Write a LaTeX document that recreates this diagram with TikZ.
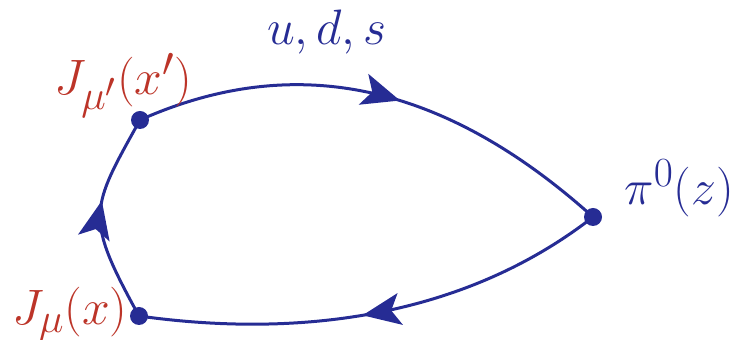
\documentclass[tikz,border=0pt]{standalone}
\usetikzlibrary{arrows.meta,decorations.markings}
\definecolor{lineblue}{RGB}{38,44,148}
\definecolor{labelred}{RGB}{188,52,40}
\tikzset{
  dotnode/.style={circle,fill=lineblue,draw=none,inner sep=0pt,minimum size=9pt},
  quark/.style={draw=lineblue,line width=1.5pt},
  arrowat/.style={postaction={decorate},decoration={markings,
     mark=at position #1 with {\arrow{Stealth[length=19pt,width=16pt,inset=4.5pt,fill=lineblue]}}}},
  lbl/.style={inner sep=0pt,font=\Huge},
}
\begin{document}
\begin{tikzpicture}[x=0.5pt,y=-0.5pt]
\useasboundingbox (0,0) rectangle (737,340);
\node[dotnode] (jp) at (140,120) {};
\node[dotnode] (j) at (139,316) {};
\node[dotnode] (pi) at (593,217) {};
\draw[quark,lineblue,arrowat=0.54] (jp.center) .. controls +(155,-69) and +(-149,-134) .. (pi.center);
\draw[quark,lineblue,arrowat=0.53] (pi.center) .. controls +(-118,92) and +(178,25) .. (j.center);
\draw[quark,lineblue,arrowat=0.58] (j.center) .. controls +(-55,-100) and +(-50,90) .. (jp.center);
\node[lbl,text=labelred,anchor=base east] (ljp) at (193,95) {$J_{\mu'}(x')$};
\node[lbl,text=labelred,anchor=base east] (lj) at (128,325) {$J_{\mu}(x)$};
\node[lbl,text=lineblue,anchor=base west] (lpi) at (624,205) {$\pi^0(z)$};
\node[lbl,text=lineblue,anchor=base] (luds) at (327,45) {$u,d,s$};
\end{tikzpicture}
\end{document}
